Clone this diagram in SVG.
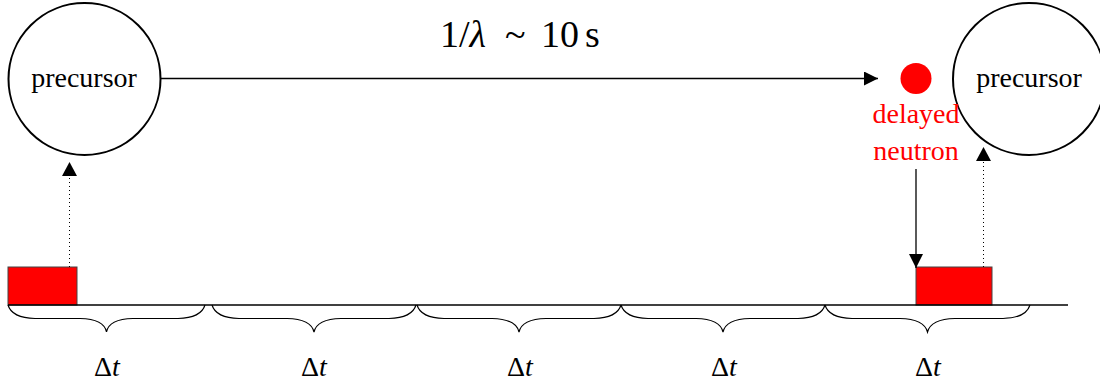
<svg xmlns="http://www.w3.org/2000/svg" width="1100" height="387" viewBox="0 0 1100 387">
<style>
  text { font-family: "Liberation Serif", "Times New Roman", serif; }
  .lbl { font-size: 28px; fill: #000; text-anchor: middle; }
  .red { font-size: 28px; fill: #ff0000; text-anchor: middle; }
  .circ { fill: #fff; stroke: #000; stroke-width: 2; }
  .box { fill: #ff0000; stroke: #444; stroke-width: 1; }
  .line { stroke: #000; stroke-width: 1.3; fill: none; }
  .dot { stroke: #000; stroke-width: 1; stroke-dasharray: 1 3; fill: none; }
  .brace { stroke: #000; stroke-width: 1.2; fill: none; }
  .dt { font-size: 28px; text-anchor: middle; }
  .ttl { font-size: 38px; fill: #000; }
</style>
<defs>
  <marker id="ah" viewBox="0 0 14 14" refX="14" refY="7" markerWidth="14" markerHeight="14" markerUnits="userSpaceOnUse" orient="auto">
    <path d="M0,0 L14,7 L0,14 Z" fill="#000"/>
  </marker>
</defs>
<rect width="1100" height="387" fill="#fff"/>

<g id="precursor-left">
  <circle class="circ" cx="84.5" cy="79" r="76"/>
  <text class="lbl" x="84" y="87">precursor</text>
</g>
<g id="precursor-right">
  <circle class="circ" cx="1029" cy="79" r="76"/>
  <text class="lbl" x="1029" y="87">precursor</text>
</g>
<g id="delayed-neutron">
  <circle cx="916" cy="78.5" r="15.5" fill="#ff0000"/>
  <text class="red" x="916" y="123">delayed</text>
  <text class="red" x="916" y="160">neutron</text>
</g>
<g id="pulse-left">
  <rect class="box" x="8" y="267" width="69" height="38"/>
</g>
<g id="pulse-right">
  <rect class="box" x="916" y="267" width="76" height="38"/>
</g>
<g id="title">
  <text class="ttl" y="47"><tspan x="440">1/</tspan><tspan font-style="italic">λ</tspan><tspan x="505">~</tspan><tspan x="541">10</tspan><tspan x="585">s</tspan></text>
</g>

<g id="connectors">
  <line class="line" x1="161" y1="78.5" x2="878" y2="78.5" marker-end="url(#ah)"/>
  <line class="line" x1="916" y1="169" x2="916" y2="268" marker-end="url(#ah)"/>
  <line class="dot" x1="69.5" y1="267" x2="69.5" y2="176"/>
  <path d="M62,176 L77,176 L69.5,162 Z" fill="#000"/>
  <line class="dot" x1="983.5" y1="267" x2="983.5" y2="161"/>
  <path d="M976,161 L991,161 L983.5,147 Z" fill="#000"/>
</g>

<g id="axis">
  <line class="line" x1="8" y1="305" x2="1068" y2="305"/>
  <path class="brace" d="M8,305 Q12,318 35,318.5 L80,318.5 Q104,319 106.5,332 Q109,319 133,318.5 L178,318.5 Q201,318 205,305"/>
  <path class="brace" d="M212,305 Q216,318 239,318.5 L287,318.5 Q311,319 314,332 Q317,319 341,318.5 L389,318.5 Q412,318 416,305"/>
  <path class="brace" d="M417,305 Q421,318 444,318.5 L492,318.5 Q516,319 519,332 Q522,319 546,318.5 L594,318.5 Q617,318 621,305"/>
  <path class="brace" d="M621,305 Q625,318 648,318.5 L696,318.5 Q720,319 723,332 Q726,319 750,318.5 L798,318.5 Q821,318 825,305"/>
  <path class="brace" d="M825,305 Q829,318 852,318.5 L900,318.5 Q924,319 927.5,332 Q931,319 955,318.5 L1003,318.5 Q1026,318 1030,305"/>
</g>

<g id="dt-labels">
  <text class="dt" x="107" y="376">Δ<tspan font-style="italic">t</tspan></text>
  <text class="dt" x="314" y="376">Δ<tspan font-style="italic">t</tspan></text>
  <text class="dt" x="520" y="376">Δ<tspan font-style="italic">t</tspan></text>
  <text class="dt" x="724" y="376">Δ<tspan font-style="italic">t</tspan></text>
  <text class="dt" x="928" y="376">Δ<tspan font-style="italic">t</tspan></text>
</g>
</svg>
